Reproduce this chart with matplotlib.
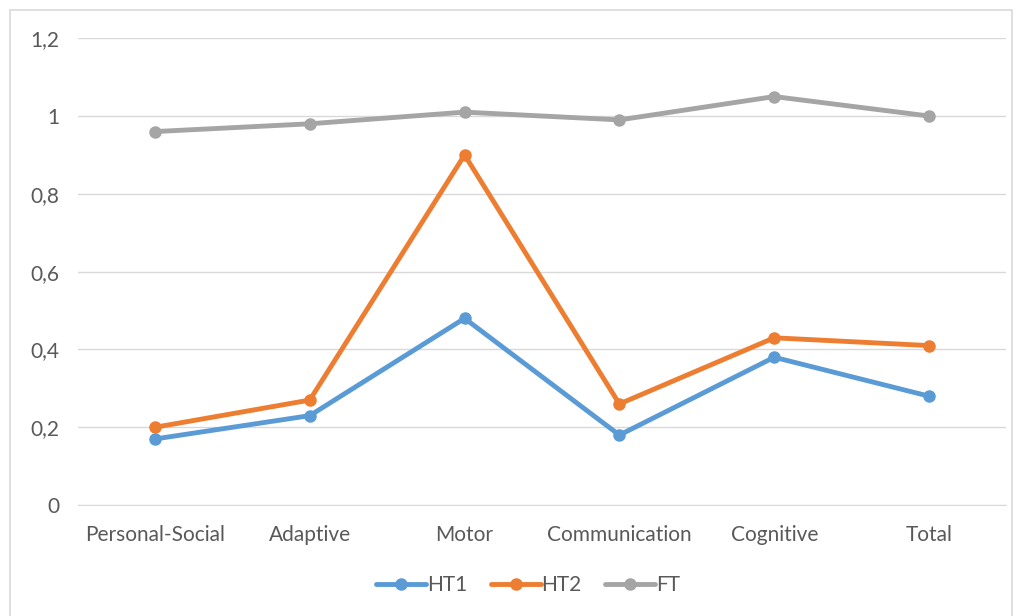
import matplotlib
matplotlib.use("Agg")
import matplotlib.pyplot as plt
from matplotlib.patches import Rectangle
from matplotlib.ticker import FuncFormatter

categories = ["Personal-Social", "Adaptive", "Motor", "Communication", "Cognitive", "Total"]
ht1 = [0.17, 0.23, 0.48, 0.18, 0.38, 0.28]
ht2 = [0.20, 0.27, 0.90, 0.26, 0.43, 0.41]
ft = [0.96, 0.98, 1.01, 0.99, 1.05, 1.00]

_TEXT = "#595959"
_GRID = "#d9d9d9"

plt.rcParams["font.family"] = ["Lato", "DejaVu Sans"]

fig = plt.figure(figsize=(10.23, 6.16), dpi=100)
ax = fig.add_axes([0.0758, 0.180, 0.908, 0.758])

# outer chart frame
fig.patches.append(Rectangle((10 / 1023, -0.01), 1002 / 1023, 1 - 10 / 616 + 0.01,
                             transform=fig.transFigure, fill=False,
                             edgecolor=_GRID, linewidth=1.2))

x = range(len(categories))
for vals, col, name in [(ht1, "#5b9bd5", "HT1"), (ht2, "#ed7d31", "HT2"), (ft, "#a5a5a5", "FT")]:
    ax.plot(x, vals, color=col, linewidth=3.5, marker="o", markersize=8,
            solid_capstyle="round", label=name, zorder=3)

ax.set_xlim(-0.5, len(categories) - 0.5)
ax.set_ylim(0, 1.2)
ax.set_yticks([0, 0.2, 0.4, 0.6, 0.8, 1.0, 1.2])
ax.yaxis.set_major_formatter(FuncFormatter(lambda v, _p: f"{v:g}".replace(".", ",")))
ax.set_xticks(list(x))
ax.set_xticklabels(categories)
ax.grid(axis="y", color=_GRID, linewidth=1)
ax.set_axisbelow(True)
for s in ax.spines.values():
    s.set_visible(False)
ax.spines["bottom"].set_visible(True)
ax.spines["bottom"].set_color(_GRID)
ax.tick_params(length=0, colors=_TEXT, labelsize=15)
ax.tick_params(axis="y", pad=13)
ax.tick_params(axis="x", pad=14)

ax.legend(loc="upper center", bbox_to_anchor=(0.485, -0.11), ncol=3, frameon=False,
          fontsize=15, labelcolor=_TEXT, handlelength=2.4, columnspacing=1.1,
          handletextpad=0.05)

fig.savefig("out.png", dpi=100)
